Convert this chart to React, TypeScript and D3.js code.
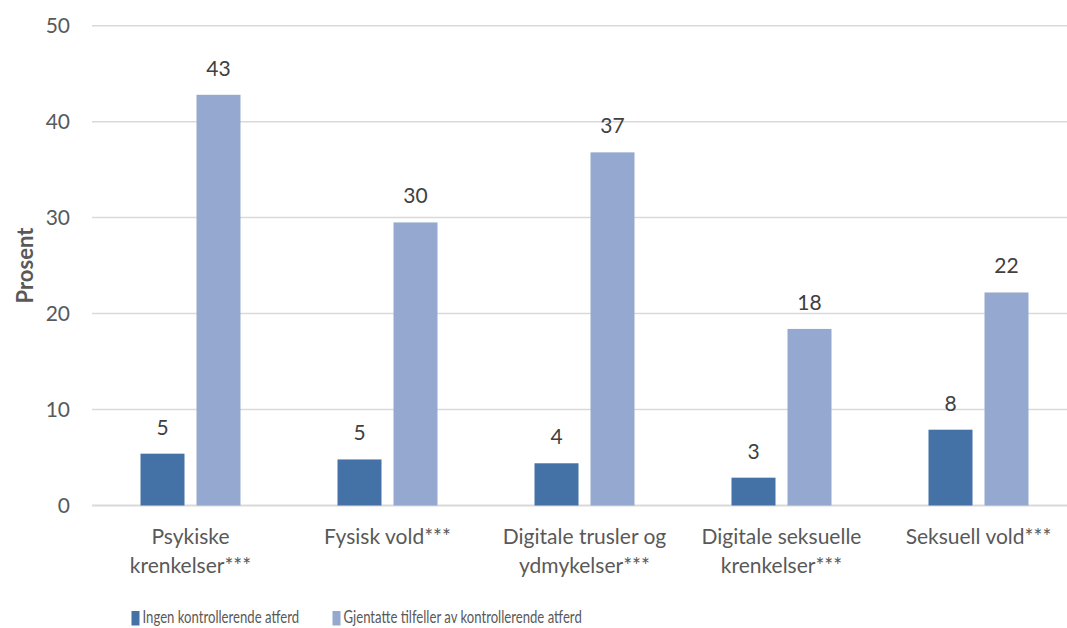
import React from "react";
import * as d3 from "d3";

const categories: string[][] = [
  ["Psykiske", "krenkelser***"],
  ["Fysisk vold***"],
  ["Digitale trusler og", "ydmykelser***"],
  ["Digitale seksuelle", "krenkelser***"],
  ["Seksuell vold***"],
];
const seriesNames = ["Ingen kontrollerende atferd", "Gjentatte tilfeller av kontrollerende atferd"];
const ingen = [5.4, 4.8, 4.4, 2.9, 7.9];
const gjentatte = [42.8, 29.5, 36.8, 18.4, 22.2];
const yTicks = [0, 10, 20, 30, 40, 50];
const colors = ["#4472A7", "#95A9D0"];

const W = 1067;
const H = 628;
const FONT = "Lato, 'Open Sans', sans-serif";

export default function App() {
  const x = d3.scaleBand<number>().domain(d3.range(categories.length)).range([92, 1077]);
  const y = d3.scaleLinear().domain([0, 50]).range([505.5, 25.7]);
  const barW = 44;
  const gap = 12;
  const series = [ingen, gjentatte];

  return (
    <svg width={W} height={H} style={{ position: "absolute", left: 0, top: 0, background: "#fff" }}>
      {yTicks.map((t) => (
        <g key={t}>
          <line x1={92} x2={W} y1={y(t)} y2={y(t)} stroke="#d9d9d9" strokeWidth={t === 0 ? 2 : 1.5} />
          <text x={70} y={y(t)} dy="0.36em" textAnchor="end" fontFamily={FONT} fontSize={21} fill="#595959">
            {t}
          </text>
        </g>
      ))}
      <text
        transform={`translate(33,${y(25)}) rotate(-90)`}
        textAnchor="middle"
        fontFamily={FONT}
        fontSize={22}
        fontWeight="bold"
        fill="#595959"
      >
        Prosent
      </text>
      {categories.map((cat, i) => {
        const c = (x(i) as number) + x.bandwidth() / 2;
        return (
          <g key={i}>
            {series.map((s, k) => {
              const bx = k === 0 ? c - gap / 2 - barW : c + gap / 2;
              const v = s[i];
              return (
                <g key={k}>
                  <rect x={bx} y={y(v)} width={barW} height={y(0) - y(v)} fill={colors[k]} />
                  <text
                    x={bx + barW / 2}
                    y={y(v) - 19}
                    textAnchor="middle"
                    fontFamily={FONT}
                    fontSize={21}
                    fill="#404040"
                  >
                    {Math.round(v)}
                  </text>
                </g>
              );
            })}
            {cat.map((line, j) => (
              <text
                key={j}
                x={c}
                y={536.5 + j * 28.5}
                dy="0.36em"
                textAnchor="middle"
                fontFamily={FONT}
                fontSize={21}
                fill="#595959"
              >
                {line}
              </text>
            ))}
          </g>
        );
      })}
      {seriesNames.map((name, k) => {
        const lx = k === 0 ? 131.5 : 332.5;
        const sx = 0.73;
        return (
          <g key={k}>
            <rect x={lx} y={611} width={8} height={14.5} fill={colors[k]} />
            <text
              transform={`translate(${lx + 11},622.5) scale(${sx},1)`}
              fontFamily={FONT}
              fontSize={18}
              fill="#595959"
            >
              {name}
            </text>
          </g>
        );
      })}
    </svg>
  );
}
